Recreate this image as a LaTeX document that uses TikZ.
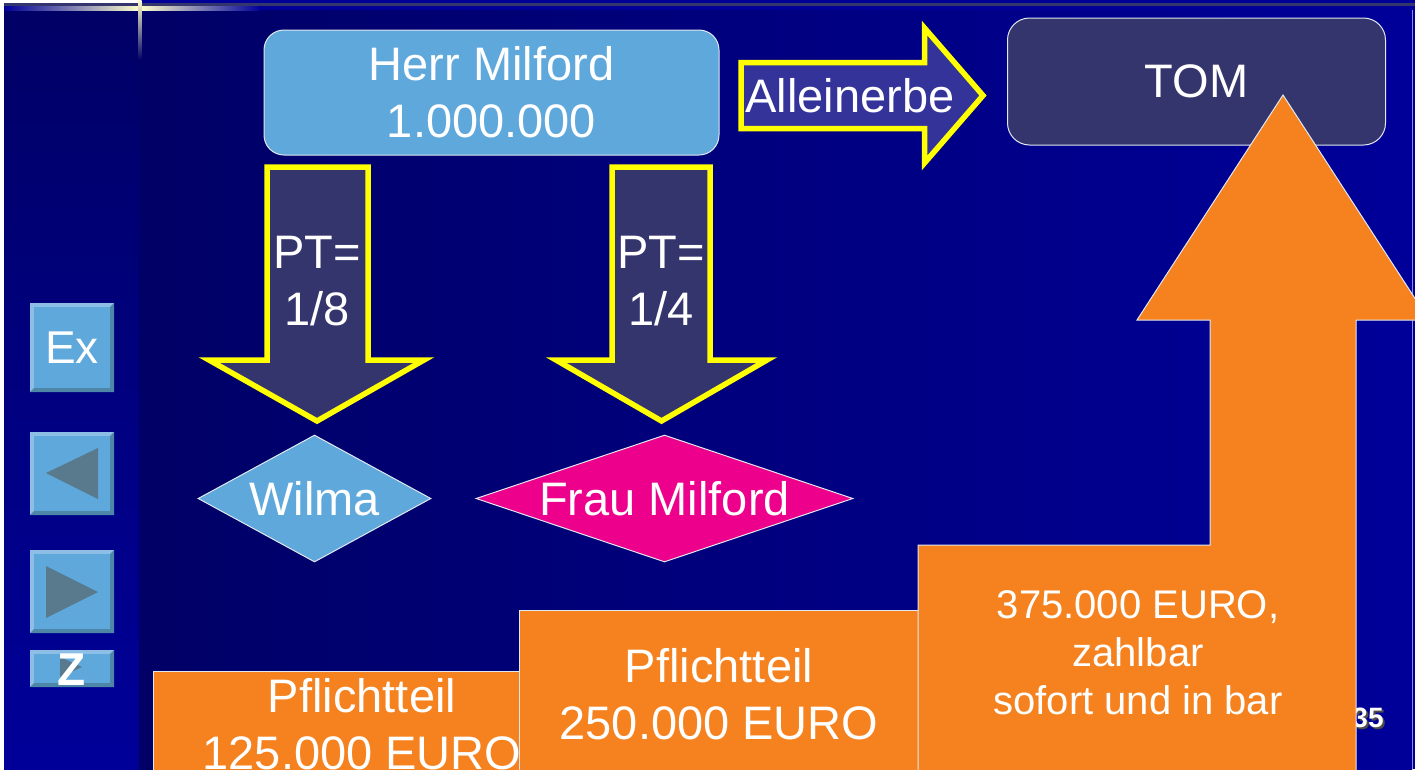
\documentclass[tikz,border=0pt]{standalone}
\usepackage{fontspec}
\setmainfont{Liberation Sans}
\usetikzlibrary{shapes.geometric}

\definecolor{bgDark}{HTML}{000066}
\definecolor{bgBlue}{HTML}{000099}
\definecolor{slateBlue}{HTML}{35356E}
\definecolor{skyBlue}{HTML}{5FA8DC}
\definecolor{arrowBlue}{HTML}{333399}
\definecolor{arrowYellow}{HTML}{FFFF00}
\definecolor{hotPink}{HTML}{EC008C}
\definecolor{pflichtOrange}{HTML}{F5821F}
\definecolor{frameWhite}{HTML}{E0E8F0}
\definecolor{btnLight}{HTML}{8DBFE6}
\definecolor{btnDark}{HTML}{4E86A8}
\definecolor{btnMark}{HTML}{587A8C}
\definecolor{glowCream}{HTML}{FFFFCC}
\definecolor{glowBlue}{HTML}{1A66FF}

\begin{document}
\begin{tikzpicture}
            [x=1pt, y=-1pt,
             every node/.style={text=white, font=\fontsize{47}{57}\selectfont},
             personBox/.style={rectangle,
                        rounded corners=20pt,
                        draw=frameWhite,
                        line width=1pt,
                        align=center,
                        inner sep=0pt},
             personDiamond/.style={diamond,
                        draw=frameWhite,
                        line width=1pt,
                        inner sep=0pt,
                        minimum height=127pt},
             blockArrow/.style={draw=arrowYellow, line width=5.5pt, miter limit=20},
             orangeBlock/.style={fill=pflichtOrange, draw=frameWhite, line width=1pt}]

            \useasboundingbox (0,0) rectangle (1415,769);
            \clip (0,0) rectangle (1415,769);

            % background
            \fill[bgBlue] (0,0) rectangle (1415,769);
            \fill[white] (0,0) rectangle (4,769);
            \shade[top color=bgDark, middle color=bgBlue, bottom color=bgBlue] (4,10) rectangle (139,769);
            \shade[left color=bgDark, middle color=bgDark!55!bgBlue, right color=bgBlue] (139,10) rectangle (1412,769);
            \fill[white] (0,0) rectangle (139,3);
            \fill[slateBlue] (4,3) rectangle (1415,6);
            \shade[left color=bgBlue, middle color=glowBlue, right color=glowCream] (4,6) rectangle (140,10);
            \shade[left color=glowCream, middle color=glowBlue, right color=bgBlue] (140,6) rectangle (260,10);
            \fill[bgBlue] (260,6) rectangle (1415,10);
            \shade[top color=glowCream, middle color=glowBlue, bottom color=bgDark] (138.5,0) rectangle (141.5,60);
            \draw[white!55!bgBlue, line width=1pt] (1412,10) -- (1412,769);

            % persons on top
            \node[personBox, fill=skyBlue, minimum width=455pt, minimum height=125pt] (herrMilford) at (491.5,92.5) {Herr Milford\\1.000.000};
            \node[personBox, fill=slateBlue, rounded corners=22pt, minimum width=378pt, minimum height=127pt] (tom) at (1196.5,81.5) {TOM};

            \draw[blockArrow, fill=arrowBlue] (741,62.5) -- (924.5,62.5) -- (924.5,28) -- (983,95.5) -- (924.5,163) -- (924.5,128.5) -- (741,128.5) -- cycle;
            \node (alleinerbe) at (850,95.5) {Alleinerbe};

            % Pflichtteil arrows
            \draw[blockArrow, fill=slateBlue] (267,167) -- (368,167) -- (368,360) -- (424,360) -- (317,421) -- (209,360) -- (267,360) -- cycle;
            \draw[blockArrow, fill=slateBlue] (612,167) -- (710,167) -- (710,360) -- (767,360) -- (661.5,421) -- (556,360) -- (612,360) -- cycle;
            \node[align=center] (ptWilma) at (317,281) {PT=\\1/8};
            \node[align=center] (ptFrau) at (661,281) {PT=\\1/4};

            \node[personDiamond, fill=skyBlue, minimum width=233pt, aspect=1.83] (wilma) at (314.5,498.5) {Wilma};
            \node[personDiamond, fill=hotPink, minimum width=377pt, aspect=2.97] (frauMilford) at (664.5,498.5) {Frau Milford};

            % navigation buttons
            \foreach \ya/\yb in {303/392, 432/515, 550/633, 650/687} {
                \fill[btnLight] (30,\ya) rectangle (114,\yb);
                \fill[btnDark] (114,\ya) -- (114,\yb) -- (30,\yb) -- (34,\yb-4) -- (110,\yb-4) -- (110,\ya+4) -- cycle;
                \fill[skyBlue] (34,\ya+4) rectangle (110,\yb-4);
            }
            \fill[btnMark] (46,473) -- (98,448) -- (98,499) -- cycle;
            \fill[btnMark] (46,566) -- (46,618) -- (98,592) -- cycle;
            \fill[btnMark] (60,657) -- (60,677) -- (82,667) -- cycle;
            \node[font=\fontsize{46}{50}\selectfont] (exButton) at (72,348) {Ex};
            \node[font=\fontsize{46}{50}\selectfont\bfseries] (zButton) at (72,670) {Z};

            \node[text=black!70, font=\fontsize{28}{30}\selectfont\bfseries] (pageShadow) at (1370,720) {35};
            \node[font=\fontsize{28}{30}\selectfont\bfseries] (pageNumber) at (1368,718) {35};

            % Pflichtteil / Erbe
            \draw[orangeBlock] (153,671) rectangle (560,790);
            \node[align=center] (pflichtWilma) at (362,724.5) {Pflichtteil\\125.000 EURO};
            \draw[orangeBlock] (519,610) rectangle (960,790);
            \node[align=center] (pflichtFrau) at (719,694) {Pflichtteil\\250.000 EURO};
            \draw[orangeBlock] (918,545) -- (1210,545) -- (1210,320) -- (1137,320) -- (1283,95) -- (1429,320) -- (1356,320) -- (1356,790) -- (918,790) -- cycle;
            \node[align=center, font=\fontsize{40}{48}\selectfont] (zahlungTom) at (1138,652.5) {375.000 EURO,\\zahlbar\\sofort und in bar};

        \end{tikzpicture}
\end{document}
